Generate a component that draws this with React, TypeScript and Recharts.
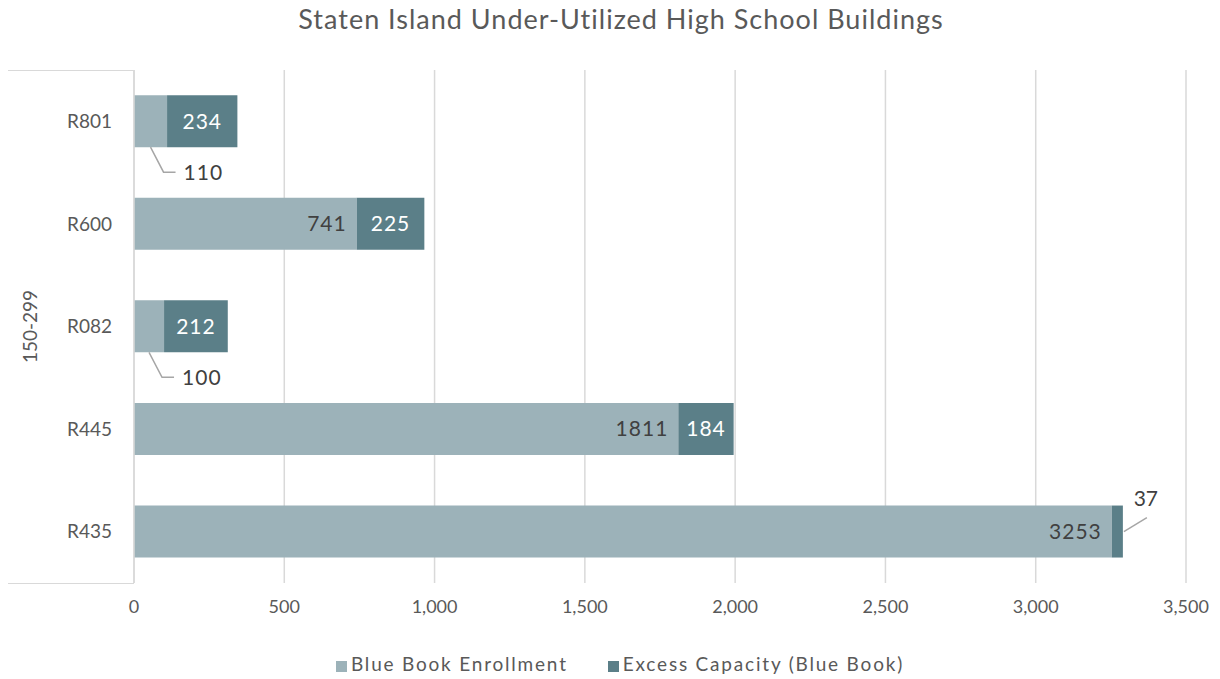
import { Bar, BarChart, CartesianGrid, LabelList, Legend, XAxis, YAxis } from 'recharts';

const buildings = ['R801', 'R600', 'R082', 'R445', 'R435'];
const enrollment = [110, 741, 100, 1811, 3253];
const excessCapacity = [234, 225, 212, 184, 37];
const xTicks = [0, 500, 1000, 1500, 2000, 2500, 3000, 3500];

const data = buildings.map((name, i) => ({
  name,
  enrollment: enrollment[i],
  excess: excessCapacity[i],
}));

const FONT = 'Lato, "Open Sans", sans-serif';
const LIGHT = '#9cb2b9';
const DARK = '#5b7f88';
const GRID = '#d9d9d9';
const LABEL_SIZE = 21;

// enrollment labels: inside the right end, or a callout underneath when the bar is too short
function EnrollmentLabel(props: any) {
  const { x, y, width, height, value } = props;
  if (width < 45) {
    const sx = x + width / 2;
    const by = y + height;
    return (
      <g>
        <polyline
          points={`${sx},${by} ${sx + 13},${by + 25} ${sx + 25},${by + 25}`}
          fill="none"
          stroke="#a6a6a6"
          strokeWidth={1.5}
        />
        <text x={sx + 33} y={by + 25} dy="0.36em" fill="#404040" fontSize={LABEL_SIZE} fontFamily={FONT} letterSpacing={1}>
          {value}
        </text>
      </g>
    );
  }
  return (
    <text
      x={x + width - 10}
      y={y + height / 2}
      dy="0.36em"
      textAnchor="end"
      fill="#404040"
      fontSize={LABEL_SIZE}
      fontFamily={FONT}
      letterSpacing={1}
    >
      {value}
    </text>
  );
}

function ExcessLabel(props: any) {
  const { x, y, width, height, value } = props;
  if (width < 30) {
    const sx = x + width + 1;
    const sy = y + height / 2;
    return (
      <g>
        <line x1={sx} y1={sy} x2={sx + 23} y2={sy - 14} stroke="#a6a6a6" strokeWidth={1.5} />
        <text x={sx + 22} y={sy - 33} dy="0.36em" textAnchor="middle" fill="#404040" fontSize={LABEL_SIZE} fontFamily={FONT}>
          {value}
        </text>
      </g>
    );
  }
  return (
    <text
      x={x + width / 2}
      y={y + height / 2}
      dy="0.36em"
      textAnchor="middle"
      fill="#ffffff"
      fontSize={LABEL_SIZE}
      fontFamily={FONT}
      letterSpacing={1}
    >
      {value}
    </text>
  );
}

export default function App() {
  return (
    <div style={{ position: 'absolute', left: 0, top: 0, width: 1220, height: 679, background: '#fff', fontFamily: FONT }}>
      <div
        style={{
          position: 'absolute',
          top: 2,
          left: 0,
          width: 1242,
          textAlign: 'center',
          fontSize: 27,
          letterSpacing: 1,
          color: '#595959',
        }}
      >
        Staten Island Under-Utilized High School Buildings
      </div>
      {/* multi-level category bracket */}
      <div
        style={{
          position: 'absolute',
          left: 8,
          top: 70,
          width: 126,
          height: 514,
          borderTop: `1.5px solid ${GRID}`,
          borderBottom: `1.5px solid ${GRID}`,
          boxSizing: 'border-box',
        }}
      />
      <BarChart
        width={1220}
        height={679}
        data={data}
        layout="vertical"
        margin={{ top: 70, right: 34, bottom: 43, left: 0 }}
        barCategoryGap="24.5%"
      >
        <CartesianGrid horizontal={false} stroke={GRID} strokeWidth={1.5} />
        <XAxis
          type="number"
          domain={[0, 3500]}
          ticks={xTicks}
          tickFormatter={(v: number) => v.toLocaleString('en-US')}
          axisLine={false}
          tickLine={false}
          tickMargin={11}
          tick={{ fill: '#595959', fontSize: 18, fontFamily: FONT }}
        />
        <YAxis
          type="category"
          dataKey="name"
          width={134}
          axisLine={{ stroke: GRID, strokeWidth: 1.5 }}
          tickLine={false}
          tickMargin={16}
          tick={{ fill: '#595959', fontSize: 19, fontFamily: FONT }}
          label={{
            value: '150-299',
            angle: -90,
            position: 'insideLeft',
            offset: 30,
            style: { fill: '#595959', fontSize: 19, fontFamily: FONT, textAnchor: 'middle' },
          }}
        />
        <Legend
          verticalAlign="bottom"
          align="center"
          iconType="square"
          iconSize={11}
          wrapperStyle={{ left: 30, width: 1220, bottom: 4, fontFamily: FONT, fontSize: 19, letterSpacing: 1.8 }}
          formatter={(value: string) => <span style={{ color: '#595959', marginRight: 30 }}>{value}</span>}
        />
        <Bar dataKey="enrollment" name="Blue Book Enrollment" stackId="a" fill={LIGHT} isAnimationActive={false}>
          <LabelList dataKey="enrollment" content={EnrollmentLabel} />
        </Bar>
        <Bar dataKey="excess" name="Excess Capacity (Blue Book)" stackId="a" fill={DARK} isAnimationActive={false}>
          <LabelList dataKey="excess" content={ExcessLabel} />
        </Bar>
      </BarChart>
    </div>
  );
}
